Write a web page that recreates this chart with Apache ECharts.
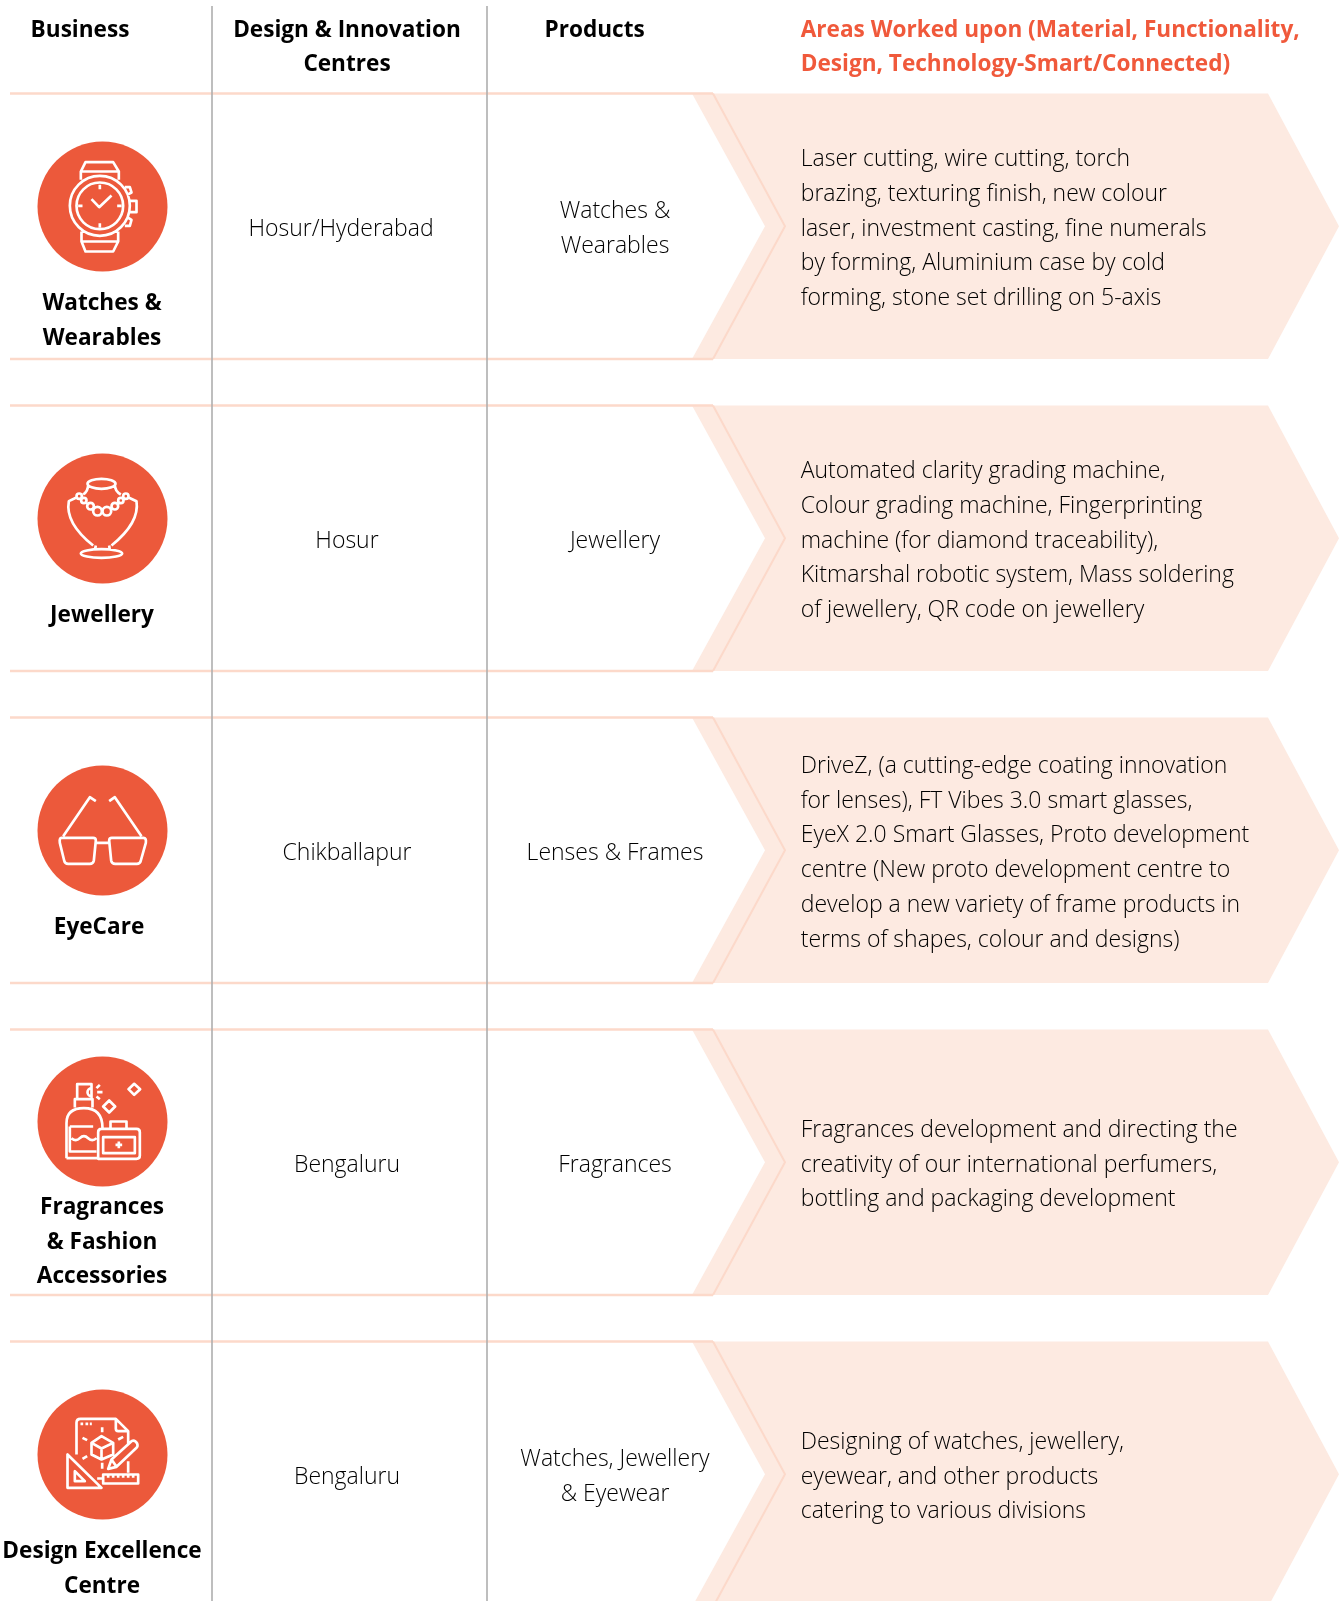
<!DOCTYPE html>
<html>
<head>
<meta charset="utf-8">
<title>Design and innovation centres</title>
<script src="https://cdn.jsdelivr.net/npm/echarts@6/dist/echarts.min.js"></script>
<style>
  html, body { margin: 0; padding: 0; background: #fff; }
  #chart { width: 1341px; height: 1601px; }
</style>
</head>
<body>
<div id="chart"></div>
<script>
// table content
var headers = [
  ['Business'],
  ['Design & Innovation', 'Centres'],
  ['Products'],
  ['Areas Worked upon (Material, Functionality,', 'Design, Technology-Smart/Connected)']
]
var businesses = [
  ['Watches &', 'Wearables'],
  ['Jewellery'],
  ['EyeCare'],
  ['Fragrances', '& Fashion', 'Accessories'],
  ['Design Excellence', 'Centre']
]
var centres = ['Hosur/Hyderabad', 'Hosur', 'Chikballapur', 'Bengaluru', 'Bengaluru']
var products = [
  ['Watches &', 'Wearables'],
  ['Jewellery'],
  ['Lenses & Frames'],
  ['Fragrances'],
  ['Watches, Jewellery', '& Eyewear']
]
var areas = [
  ['Laser cutting, wire cutting, torch', 'brazing, texturing finish, new colour', 'laser, investment casting, fine numerals', 'by forming, Aluminium case by cold', 'forming, stone set drilling on 5-axis'],
  ['Automated clarity grading machine,', 'Colour grading machine, Fingerprinting', 'machine (for diamond traceability),', 'Kitmarshal robotic system, Mass soldering', 'of jewellery, QR code on jewellery'],
  ['DriveZ, (a cutting-edge coating innovation', 'for lenses), FT Vibes 3.0 smart glasses,', 'EyeX 2.0 Smart Glasses, Proto development', 'centre (New proto development centre to', 'develop a new variety of frame products in', 'terms of shapes, colour and designs)'],
  ['Fragrances development and directing the', 'creativity of our international perfumers,', 'bottling and packaging development'],
  ['Designing of watches, jewellery,', 'eyewear, and other products', 'catering to various divisions']
]

// layout
var ROW_TOP = 93.5, ROW_PITCH = 312, ROW_H = 265.5, LINE_H = 34.7
var TEXT_DY = 3
var DIVIDERS = [212, 487]
var ORANGE = '#ec593b', BAND = '#fdeae1', RULE = '#fcd9ca', GREY = '#aeaeae', INK = '#000'
var FONT = '"Open Sans"'
var LIGHT = '300 23px ' + FONT, BOLD = '700 22.6px ' + FONT

// icons traced at 3x around the circle centre [ox, oy]
var icons = [
  { ox: 248, oy: 230, d: 'M240 138A90 90 0 1 0 240 318A90 90 0 1 0 240 138ZM240 158A70 70 0 1 0 240 298A70 70 0 1 0 240 158ZM215 208L238 232L275 197M240 165V178M240 280V293M175 228H188M292 228H305M183 150V125L197 97H280L297 125V150M183 125H297M185 305V335L197 365H280L295 335V305M185 335H295M315 172L330 172L335 188L322 195M330 213H350V247H330M322 262L335 270L330 288L315 288' },
  { ox: 248, oy: 237, d: 'M203 133A42 15 0 1 0 287 133A42 15 0 1 0 203 133ZM205 135Q205 155 190 165M285 135Q285 155 303 165M170 174L147 185Q135 250 220 318M326 174L350 185Q360 250 275 318M228 318L225 332M268 318L270 332M183 342A62 13 0 1 0 307 342A62 13 0 1 0 183 342ZM170 170A8 8 0 1 0 186 170A8 8 0 1 0 170 170ZM184 183A8 8 0 1 0 200 183A8 8 0 1 0 184 183ZM202 200A10 10 0 1 0 222 200A10 10 0 1 0 202 200ZM220 215A13 13 0 1 0 246 215A13 13 0 1 0 220 215ZM248 215A13 13 0 1 0 274 215A13 13 0 1 0 248 215ZM275 200A10 10 0 1 0 295 200A10 10 0 1 0 275 200ZM295 183A8 8 0 1 0 311 183A8 8 0 1 0 295 183ZM310 170A8 8 0 1 0 326 170A8 8 0 1 0 310 170Z' },
  { ox: 248, oy: 228, d: 'M125 250H220Q228 250 228 258L222 318Q220 328 210 328H145Q135 328 133 318L120 265Q118 250 125 250ZM371 250H276Q268 250 268 258L274 318Q276 328 286 328H351Q361 328 363 318L378 265Q380 250 371 250ZM228 265H268M130 245L210 128L228 140M365 245L285 128L268 140' },
  { ox: 248, oy: 230, d: 'M172 160V118H215V160M215 130A12 12 0 0 0 215 154M165 188V163H218V188M140 340V235Q140 190 192 190Q248 190 248 250M140 340H235M150 245H220M150 245V320H230M155 280Q168 292 180 280T205 280T230 280M235 262Q235 252 245 252H350Q360 252 360 262V332Q360 342 350 342H235ZM250 277H345V325H250ZM272 252V230H320V252M297 290V310M287 300H307M268 167L286 185L268 203L250 185ZM343 117L361 133L343 150L326 133ZM230 130L240 120M232 142H248M230 155L240 163' },
  { ox: 248, oy: 225, d: 'M170 225V130Q170 118 182 118H288L325 155V195M325 245V280M288 118V148Q288 155 295 155H325M182 133H190M197 133H205M210 133H216M245 170L280 190V225L245 240L215 225V190ZM215 190L245 207L280 190M245 207V240M247 143V158M247 250V268M188 175L202 182M188 238L202 230M295 180L310 172M265 268L275 240L335 185Q345 180 352 192Q355 200 350 205L290 262ZM275 240L290 262M143 225V325H245ZM165 275V305H195ZM250 285H355V312H250ZM265 285V295M280 285V295M295 285V295M310 285V295M325 285V295M340 285V295M232 297H250' }
]

function text(api, str, x, y, font, align, color) {
  var p = api.coord([x, y])
  return {
    type: 'text',
    style: { text: str, x: p[0], y: p[1], font: font, fill: color || INK, align: align || 'center', verticalAlign: 'middle' }
  }
}

function polygon(api, pts, style) {
  return { type: 'polygon', shape: { points: pts.map(function (q) { return api.coord(q) }) }, style: style }
}

function renderHeader(params, api) {
  var kids = []
  DIVIDERS.forEach(function (x) {
    var a = api.coord([x, 6]), b = api.coord([x, 1601])
    kids.push({ type: 'line', shape: { x1: a[0], y1: a[1], x2: b[0], y2: b[1] }, style: { stroke: GREY, lineWidth: 1.6 } })
  })
  var xs = [30.6, 347, 594.6, 800.7]
  var aligns = ['left', 'center', 'center', 'left']
  headers.forEach(function (lines, i) {
    lines.forEach(function (s, k) {
      kids.push(text(api, s, xs[i], 31 + k * 34, BOLD, aligns[i], i === 3 ? '#f0593b' : INK))
    })
  })
  return { type: 'group', children: kids }
}

function renderRow(params, api) {
  var i = api.value(0)
  var top = ROW_TOP + i * ROW_PITCH, bot = top + ROW_H, mid = top + ROW_H / 2
  var tmid = mid + TEXT_DY
  var kids = []

  // chevron and rules
  kids.push(polygon(api, [[692, top], [1268, top], [1339, mid], [1268, bot], [692, bot], [765, mid]], { fill: BAND }))
  kids.push({ type: 'polyline', shape: { points: [api.coord([713, top]), api.coord([785, mid]), api.coord([713, bot])] }, style: { fill: 'none', stroke: RULE, lineWidth: 2 } })
  ;[top, bot].forEach(function (y) {
    var a = api.coord([10, y]), b = api.coord([713, y])
    kids.push({ type: 'line', shape: { x1: a[0], y1: a[1], x2: b[0], y2: b[1] }, style: { stroke: RULE, lineWidth: 2.4 } })
  })

  // icon
  var cy = top + (i === 3 ? 92 : 113)
  var c = api.coord([102.5, cy])
  kids.push({ type: 'circle', shape: { cx: c[0], cy: c[1], r: 65 }, style: { fill: ORANGE } })
  var ic = icons[i]
  kids.push({
    type: 'path',
    x: c[0] - ic.ox / 3, y: c[1] - ic.oy / 3, scaleX: 1 / 3, scaleY: 1 / 3,
    shape: { pathData: ic.d },
    style: { fill: 'none', stroke: '#fff', lineWidth: 8, lineJoin: 'round' }
  })

  // labels
  var labelTop = top + (i === 3 ? 178 : 210.5)
  businesses[i].forEach(function (s, k) {
    kids.push(text(api, s, i === 2 ? 99 : 102, labelTop + k * LINE_H, BOLD))
  })
  kids.push(text(api, centres[i], i === 0 ? 341 : 347, tmid, LIGHT))
  products[i].forEach(function (s, k) {
    kids.push(text(api, s, 615, tmid + (k - (products[i].length - 1) / 2) * LINE_H, LIGHT))
  })
  areas[i].forEach(function (s, k) {
    kids.push(text(api, s, 800.7, tmid + (k - (areas[i].length - 1) / 2) * LINE_H, LIGHT, 'left'))
  })
  return { type: 'group', children: kids }
}

var chart = echarts.init(document.getElementById('chart'), null, { renderer: 'canvas' })
chart.setOption({
  animation: false,
  backgroundColor: '#fff',
  grid: { left: 0, right: 0, top: 0, bottom: 0 },
  xAxis: { type: 'value', min: 0, max: 1341, show: false },
  yAxis: { type: 'value', min: 0, max: 1601, inverse: true, show: false },
  series: [
    { type: 'custom', coordinateSystem: 'cartesian2d', clip: false, silent: true, encode: { x: 0 }, data: businesses.map(function (b, i) { return [i] }), renderItem: renderRow },
    { type: 'custom', coordinateSystem: 'cartesian2d', clip: false, silent: true, encode: { x: 0 }, data: [[0]], renderItem: renderHeader }
  ]
})
</script>
</body>
</html>
